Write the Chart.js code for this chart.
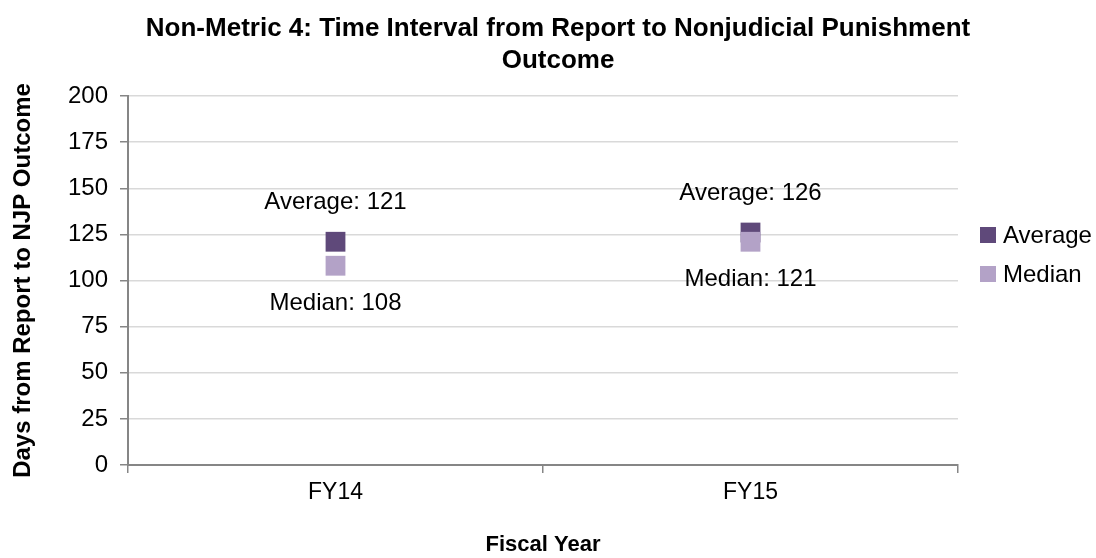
<!DOCTYPE html>
<html>
<head>
<meta charset="utf-8">
<script src="https://cdn.jsdelivr.net/npm/chart.js@4.4.1/dist/chart.umd.min.js"></script>
<style>
  html, body { margin: 0; padding: 0; background: #fff; }
  #wrap { width: 1096px; height: 558px; position: relative; }
</style>
</head>
<body>
<div id="wrap"><canvas id="myChart" width="1096" height="558"></canvas></div>
<script>
// data
var fiscalYears = ['FY14', 'FY15'];
var averageDays = [121, 126];
var medianDays = [108, 121];
var yTicks = [0, 25, 50, 75, 100, 125, 150, 175, 200];

var FONT = "'Liberation Sans', Arial, sans-serif";
var DARK = '#5f497a';
var LIGHT = '#b3a2c7';
var AXIS = '#868686';

// title, legend and value labels drawn by hand
var extras = {
  id: 'extras',
  afterDraw: function(chart) {
    var ctx = chart.ctx;
    ctx.save();
    ctx.fillStyle = '#000';
    ctx.textAlign = 'center';
    ctx.textBaseline = 'middle';

    // title
    ctx.font = 'bold 26px ' + FONT;
    ctx.fillText('Non-Metric 4: Time Interval from Report to Nonjudicial Punishment', 558, 29);
    ctx.fillText('Outcome', 558, 61);

    // value labels
    ctx.font = '24px ' + FONT;
    var avgMeta = chart.getDatasetMeta(0);
    var medMeta = chart.getDatasetMeta(1);
    avgMeta.data.forEach(function(pt, i) {
      ctx.fillText('Average: ' + averageDays[i], pt.x, pt.y - 39);
    });
    medMeta.data.forEach(function(pt, i) {
      ctx.fillText('Median: ' + medianDays[i], pt.x, pt.y + 38);
    });

    // legend
    ctx.textAlign = 'left';
    var items = [['Average', DARK], ['Median', LIGHT]];
    items.forEach(function(it, i) {
      var y = 235 + i * 39;
      ctx.fillStyle = it[1];
      ctx.fillRect(980, y - 8, 16, 16);
      ctx.fillStyle = '#000';
      ctx.fillText(it[0], 1003, y + 1);
    });
    ctx.restore();
  }
};

var ctx = document.getElementById('myChart');
var myChart = new Chart(ctx, {
  type: 'line',
  data: {
    labels: fiscalYears,
    datasets: [{
      label: 'Average',
      data: averageDays,
      showLine: false,
      pointStyle: 'rect',
      pointRadius: 14,
      pointHoverRadius: 14,
      backgroundColor: DARK,
      borderColor: DARK,
      pointBorderWidth: 0,
      order: 1
    }, {
      label: 'Median',
      data: medianDays,
      showLine: false,
      pointStyle: 'rect',
      pointRadius: 14,
      pointHoverRadius: 14,
      backgroundColor: LIGHT,
      borderColor: LIGHT,
      pointBorderWidth: 0,
      order: 0
    }]
  },
  options: {
    responsive: false,
    animation: false,
    layout: { padding: { left: 0, right: 138, top: 96, bottom: 0 } },
    plugins: {
      legend: { display: false },
      title: { display: false },
      tooltip: { enabled: false }
    },
    scales: {
      x: {
        offset: true,
        grid: { offset: true, drawOnChartArea: false, tickLength: 8, color: AXIS, lineWidth: 1.5 },
        border: { color: AXIS, width: 2 },
        ticks: { color: '#000', font: { family: FONT, size: 23 }, padding: 6 },
        title: { display: true, text: 'Fiscal Year', color: '#000', font: { family: FONT, size: 22, weight: 'bold' }, padding: { top: 0, bottom: 0 } },
        afterFit: function(scale) { scale.height = 93; }
      },
      y: {
        min: 0,
        max: 200,
        afterBuildTicks: function(scale) {
          scale.ticks = yTicks.map(function(v) { return { value: v }; });
        },
        grid: { color: '#d9d9d9', tickColor: AXIS, tickLength: 8, lineWidth: 1.5 },
        border: { color: AXIS, width: 2 },
        ticks: { color: '#000', font: { family: FONT, size: 24 }, padding: 12 },
        title: { display: true, text: 'Days from Report to NJP Outcome', color: '#000', font: { family: FONT, size: 24, weight: 'bold' }, padding: { top: 9, bottom: 0 } },
        afterFit: function(scale) { scale.width = 128; }
      }
    }
  },
  plugins: [extras]
});
</script>
</body>
</html>
